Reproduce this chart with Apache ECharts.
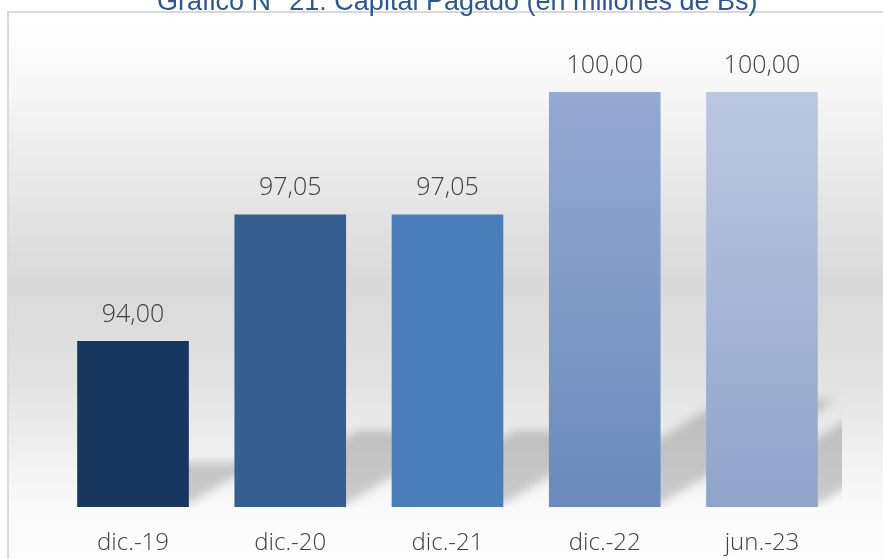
<!DOCTYPE html>
<html>
<head>
<meta charset="utf-8">
<script src="https://cdn.jsdelivr.net/npm/echarts@6/dist/echarts.min.js"></script>
<style>html,body{margin:0;padding:0;background:#fff;}#c{width:883px;height:559px;}</style>
</head>
<body>
<div id="c"></div>
<script>
const titleText = 'Gráfico N° 21: Capital Pagado (en millones de Bs)';
const categories = ['dic.-19', 'dic.-20', 'dic.-21', 'dic.-22', 'jun.-23'];
const values = [94.00, 97.05, 97.05, 100.00, 100.00];
const valueLabels = ['94,00', '97,05', '97,05', '100,00', '100,00'];
const yMin = 90, yMax = 101;

const barFills = [
  '#17375e',
  '#355f91',
  '#4a7ebb',
  new echarts.graphic.LinearGradient(0,0,0,1,[{offset:0,color:'#95a9d1'},{offset:1,color:'#6a8abc'}]),
  new echarts.graphic.LinearGradient(0,0,0,1,[{offset:0,color:'#bcc8e1'},{offset:1,color:'#8fa4ca'}])
];
const BAR_FRAC = 0.71;
const FAR = 3000;

const chart = echarts.init(document.getElementById('c'), null, {renderer:'canvas'});
chart.setOption({
  animation: false,
  title: {
    text: titleText,
    left: 152, top: -16,
    textStyle: {fontFamily: 'Liberation Sans', fontSize: 27, fontWeight: 'normal', color: '#2b579a'}
  },
  graphic: [{
    type: 'rect', z: -100, silent: true,
    shape: {x: 8, y: 12, width: 900, height: 560},
    style: {
      fill: new echarts.graphic.LinearGradient(0,0,0,1,[
        {offset:0, color:'#ffffff'},
        {offset:0.1, color:'#fafafa'},
        {offset:0.48, color:'#d9d9d9'},
        {offset:0.66, color:'#e2e2e2'},
        {offset:0.88, color:'#fafafa'},
        {offset:1, color:'#fdfdfd'}
      ]),
      stroke: '#d9d9d9', lineWidth: 2
    }
  }],
  grid: {left: 54.4, right: 42.4, top: 50.5, bottom: 52, containLabel: false},
  xAxis: {
    type: 'category', data: categories,
    axisLine: {show: false}, axisTick: {show: false},
    axisLabel: {fontFamily: 'Open Sans', fontWeight: 300, fontSize: 24, color: '#404040', margin: 24}
  },
  yAxis: {
    type: 'value', min: yMin, max: yMax, show: false,
    splitLine: {show: false}
  },
  series: [
    {
      type: 'custom', z: 1, clip: true, silent: true,
      data: values.map((v, i) => [i, v]),
      renderItem: function (params, api) {
        const idx = api.value(0), val = api.value(1);
        const base = api.coord([idx, yMin]);
        const top = api.coord([idx, val]);
        const bw = api.size([1, 0])[0] * BAR_FRAC;
        const L = base[0] - bw / 2, R = base[0] + bw / 2, B = base[1] - 3, H = base[1] - top[1];
        const k = 0.42, s = 0.25;
        const pts = [[L, B], [R, B], [R + k * H, B - s * H], [L + k * H, B - s * H]]
          .map(p => [p[0] + FAR, p[1]]);
        return {
          type: 'polygon',
          shape: {points: pts},
          style: {fill: '#000', shadowBlur: 10, shadowColor: 'rgba(0,0,0,0.19)', shadowOffsetX: -FAR, shadowOffsetY: 0}
        };
      }
    },
    {
      type: 'bar', z: 5,
      barWidth: (BAR_FRAC * 100) + '%',
      data: values.map((v, i) => ({value: v, itemStyle: {color: barFills[i]}})),
      label: {
        show: true, position: 'top', distance: 14,
        formatter: p => valueLabels[p.dataIndex],
        fontFamily: 'Open Sans', fontWeight: 300, fontSize: 25, color: '#404040'
      }
    }
  ]
});
</script>
</body>
</html>
